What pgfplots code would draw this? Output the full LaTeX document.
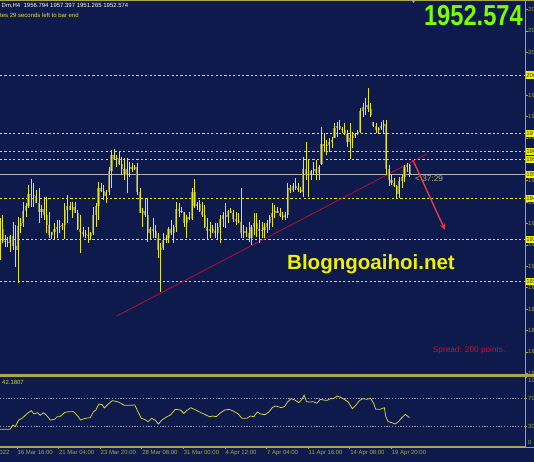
\documentclass[border=0pt]{standalone}
\usepackage{fontspec}
\setmainfont{Liberation Sans}
\usepackage{pgfplots}
\pgfplotsset{compat=1.18}
\usepackage{pgfplotstable}
\usetikzlibrary{arrows.meta}

\definecolor{bg}{HTML}{0D1A4B}
\definecolor{frame}{HTML}{A8A844}
\definecolor{wick}{HTML}{E6E61E}
\definecolor{body}{HTML}{84844A}
\definecolor{lvl}{HTML}{E8E800}
\definecolor{bid}{HTML}{B4B4B4}
\definecolor{trend}{HTML}{B3122E}
\definecolor{arrowred}{HTML}{F03A47}
\definecolor{timer}{HTML}{B8B860}
\definecolor{wm}{HTML}{F0F000}
\definecolor{big}{HTML}{7CFC00}
\definecolor{spread}{HTML}{C8102E}
\definecolor{rsi}{HTML}{D8D838}
\definecolor{dots}{HTML}{9A9AB0}
\definecolor{boxy}{HTML}{F2F200}

% H4 bars: index, open, high, low, close
\pgfplotstableread{
i o h l c
0 1925 1931.3 1911.2 1926
1 1926 1932.9 1919.2 1920.5
2 1920.5 1923.2 1917.6 1920
3 1920 1922.4 1917.6 1919.5
4 1919.5 1923.2 1915.2 1922.5
5 1922.5 1929.7 1916.0 1918
6 1918 1928.1 1907.9 1916
7 1916 1932.1 1899.9 1927.5
8 1927.5 1931.3 1924.0 1929
9 1929 1939.3 1927.2 1935
10 1935 1938.5 1932.1 1937
11 1937 1947.4 1936.1 1943
12 1943 1950.1 1936.9 1942.5
13 1942.5 1948.2 1936.9 1942
14 1942 1945.0 1938.5 1938.6
15 1938.6 1945.8 1928.9 1934.5
16 1934.5 1937.7 1931.3 1936
17 1936 1941.8 1930.5 1933
18 1933 1941.8 1924.0 1928
19 1928 1934.5 1921.6 1923
20 1923 1924.8 1921.1 1924.5
21 1924.5 1928.9 1921.1 1926
22 1926 1930.5 1921.6 1927
23 1927 1930.5 1924.0 1927.5
24 1927.5 1928.9 1925.6 1928
25 1928 1938.5 1921.1 1935.5
26 1935.5 1942.5 1928.9 1937
27 1937 1939.3 1935.3 1935.5
28 1935.5 1939.3 1931.3 1936.5
29 1936.5 1939.3 1933.7 1934
30 1934 1935.3 1925.6 1926
31 1926 1932.9 1914.4 1924.5
32 1924.5 1927.2 1922.4 1923.5
33 1923.5 1925.6 1921.6 1923
34 1923 1927.2 1919.2 1922.5
35 1922.5 1924.8 1920.8 1924
36 1924 1936.9 1923.2 1933
37 1933 1938.5 1927.2 1937
38 1937 1949.0 1930.5 1946
39 1946 1948.2 1944.2 1944.5
40 1944.5 1947.4 1940.1 1942
41 1942 1945.0 1938.5 1944
42 1944 1956.2 1942.5 1954
43 1954 1964.3 1945.8 1962
44 1962 1964.8 1959.5 1960
45 1960 1961.9 1956.2 1960.5
46 1960.5 1963.5 1957.0 1957.5
47 1957.5 1961.1 1952.2 1955
48 1955 1960.3 1949.8 1952
49 1952 1960.3 1943.4 1955
50 1955 1958.7 1951.4 1956
51 1956 1957.9 1953.8 1955.2
52 1955.2 1957.0 1954.6 1956
53 1956 1957.9 1942.5 1944
54 1944 1945.8 1933.7 1934
55 1934 1936.1 1927.2 1935
56 1935 1940.9 1932.1 1933
57 1933 1940.9 1920.0 1924
58 1924 1927.2 1920.8 1926
59 1926 1931.3 1921.6 1925
60 1925 1928.1 1921.6 1922
61 1922 1924.0 1912.0 1916
62 1916 1919.2 1895.8 1917
63 1917 1924.0 1916.0 1921
64 1921 1923.2 1919.2 1922
65 1922 1927.2 1919.2 1926
66 1926 1930.5 1923.2 1924
67 1924 1928.1 1919.2 1927
68 1927 1939.3 1924.8 1936
69 1936 1938.5 1932.1 1935
70 1935 1936.9 1933.7 1934.5
71 1934.5 1934.5 1927.2 1929
72 1929 1932.9 1921.6 1932
73 1932 1934.5 1930.5 1931
74 1931 1945.8 1930.5 1944
75 1944 1950.1 1936.1 1937
76 1937 1939.3 1935.3 1938
77 1938 1940.1 1934.5 1935
78 1935 1939.3 1932.1 1933
79 1933 1937.7 1926.5 1927
80 1927 1931.3 1920.8 1925
81 1925 1929.7 1921.6 1926
82 1926 1928.1 1924.0 1925
83 1925 1928.9 1921.6 1924
84 1924 1928.9 1920.8 1927
85 1927 1932.9 1919.2 1931
86 1931 1934.5 1927.2 1933
87 1933 1938.5 1926.5 1932
88 1932 1935.3 1928.9 1935
89 1935 1936.1 1933.7 1934
90 1934 1935.3 1929.7 1931
91 1931 1934.5 1928.1 1930
92 1930 1933.7 1928.9 1929.5
93 1929.5 1945.8 1921.6 1924
94 1924 1928.1 1921.6 1925
95 1925 1927.2 1922.4 1924
96 1924 1929.7 1920.0 1922
97 1922 1928.1 1918.4 1927
98 1927 1933.7 1923.2 1929
99 1929 1933.7 1922.4 1926
100 1926 1930.5 1919.2 1925
101 1925 1929.7 1921.6 1925.5
102 1925.5 1928.9 1921.6 1927
103 1927 1930.5 1924.0 1929
104 1929 1932.9 1925.6 1932
105 1932 1938.5 1927.2 1934
106 1934 1937.7 1931.3 1935
107 1935 1936.9 1933.7 1934
108 1934 1936.1 1932.1 1932.5
109 1932.5 1934.5 1930.5 1932
110 1932 1934.5 1930.5 1933
111 1933 1948.2 1931.3 1946
112 1946 1947.4 1943.4 1945
113 1945 1948.2 1944.2 1947
114 1947 1950.6 1945.0 1946
115 1946 1948.2 1944.2 1945
116 1945 1946.6 1943.4 1944
117 1944 1961.1 1941.8 1955
118 1955 1968.3 1949.8 1952
119 1952 1959.5 1941.8 1952.5
120 1952.5 1954.6 1949.8 1954
121 1954 1958.7 1952.2 1955
122 1955 1959.5 1949.8 1953
123 1953 1957.0 1949.8 1956
124 1957.5 1975.6 1957.0 1967
125 1967 1972.3 1963.5 1966
126 1966 1969.1 1961.9 1966.5
127 1966.5 1969.9 1963.5 1968
128 1968 1970.7 1965.1 1969
129 1970 1977.2 1969.9 1975
130 1975 1978.0 1970.7 1976
131 1976 1978.8 1974.0 1974.5
132 1974.5 1975.6 1972.3 1974
133 1974 1977.2 1971.5 1972
134 1972 1974.0 1965.9 1968
135 1968 1977.2 1959.8 1970
136 1970 1973.1 1965.1 1971
137 1971 1972.3 1969.9 1972
138 1972 1974.0 1971.5 1973
139 1973 1984.4 1972.3 1983
140 1983 1986.8 1980.4 1985
141 1985 1989.2 1981.2 1986
142 1986 1994.1 1982.8 1984
143 1984 1986.8 1980.4 1981
144 1978 1978.0 1975.6 1976
145 1976 1977.2 1972.3 1974
146 1974 1975.6 1972.3 1975
147 1975 1978.0 1974.0 1976
148 1976 1978.8 1972.3 1977
149 1977 1978.8 1952.2 1955
150 1955 1957.1 1947.0 1950
151 1950 1952.2 1947.4 1948.5
152 1948.5 1950.8 1946.4 1947
153 1947 1947.4 1941.1 1943
154 1943 1951.3 1941.1 1949.5
155 1949.5 1952.2 1946.0 1951
156 1951 1957.1 1948.9 1956
157 1956 1958.0 1953.7 1956.8
158 1956.794 1957.397 1951.265 1952.574
}\bars

\begin{document}
\begin{tikzpicture}
\path[use as bounding box] (0,0) rectangle (534bp,462bp);
\clip (0,0) rectangle (534bp,462bp);
\fill[bg] (0,0) rectangle (534bp,462bp);

% ---- price panel
\begin{axis}[
  at={(0bp,88.7bp)}, anchor=south west, scale only axis,
  width=525bp, height=372.3bp,
  xmin=0, xmax=202.47, ymin=1856.4, ymax=2036.25,
  axis x line=none, axis y line*=right,
  y axis line style={draw=frame, line width=0.8bp},
  ytick={2032.19,2021.85,2011.51,2001.17,1990.84,1980.50,1970.16,1959.82,1949.48,1939.14,1928.81,1918.47,1908.13,1897.79,1887.45,1877.12,1866.78,1856.44},
  yticklabels={2032.190,2021.850,2011.510,2001.170,1990.840,1980.500,1970.160,1959.820,1949.480,1939.140,1928.810,1918.470,1908.130,1897.790,1887.450,1877.120,1866.780,1856.440},
  tick align=outside, major tick length=2.5bp,
  tick style={draw=frame, line width=0.6bp},
  yticklabel style={font=\fontsize{6}{6}\selectfont, text=frame, anchor=west, inner sep=0.5bp},
]
% support / resistance levels
\addplot[lvl, line width=1bp, dash pattern=on 2.2bp off 2.2bp] coordinates {(0,2000.1) (202.47,2000.1)};
\addplot[lvl!85!white, line width=1bp, dash pattern=on 2.2bp off 2.2bp] coordinates {(0,1972.4) (202.47,1972.4)};
\addplot[lvl, line width=1bp, dash pattern=on 2.2bp off 2.2bp] coordinates {(0,1963.7) (202.47,1963.7)};
\addplot[lvl, line width=1bp, dash pattern=on 2.2bp off 2.2bp] coordinates {(0,1959.8) (202.47,1959.8)};
\addplot[lvl, line width=1bp, dash pattern=on 2.2bp off 2.2bp] coordinates {(0,1941.0) (202.47,1941.0)};
\addplot[lvl, line width=1bp, dash pattern=on 2.2bp off 2.2bp] coordinates {(0,1921.2) (202.47,1921.2)};
\addplot[lvl, line width=1bp, dash pattern=on 2.2bp off 2.2bp] coordinates {(0,1900.9) (202.47,1900.9)};
\addplot[bid, line width=0.8bp] coordinates {(0,1952.574) (202.47,1952.574)};
% trend line
\addplot[trend, line width=0.8bp] coordinates {(45.1,1884.1) (164.7,1962.4)};
% candle bodies
\addplot[forget plot, draw=none, mark=none,
  error bars/.cd, y dir=minus, y explicit, error mark=none,
  error bar style={draw=body, line width=2.1bp, solid}]
  table[x=i, y expr={max(\thisrow{o},\thisrow{c})},
        y error minus expr={abs(\thisrow{o}-\thisrow{c})}] {\bars};
% wicks
\addplot[forget plot, draw=none, mark=none,
  error bars/.cd, y dir=minus, y explicit, error mark=none,
  error bar style={draw=wick, line width=0.75bp, solid}]
  table[x=i, y=h, y error minus expr={\thisrow{h}-\thisrow{l}}] {\bars};
% forecast arrow
\addplot[arrowred, line width=1.3bp, -{Stealth[length=6bp,width=5bp]}] coordinates {(159.2,1959.5) (171.6,1925.7)};
\end{axis}

% ---- RSI panel
\begin{axis}[
  at={(0bp,15.2bp)}, anchor=south west, scale only axis,
  width=525bp, height=69.2bp,
  xmin=0, xmax=202.47, ymin=0, ymax=100,
  axis x line*=bottom, axis y line*=right,
  axis line style={draw=frame, line width=0.8bp},
  tick align=outside, major tick length=2.2bp,
  tick style={draw=frame, line width=0.6bp},
  ytick={0,30,70,100}, yticklabels={,,,},
  xtick={6.48,22.52,38.57,54.61,70.65,86.70,102.74,118.78,134.82,150.87},
  xticklabels={16 Mar 16:00,21 Mar 04:00,23 Mar 20:00,28 Mar 08:00,31 Mar 00:00,4 Apr 12:00,7 Apr 04:00,11 Apr 16:00,14 Apr 08:00,19 Apr 20:00},
  xticklabel style={font=\fontsize{6}{6}\selectfont, text=frame, anchor=north west, inner sep=0bp, xshift=0.5bp, yshift=-1bp},
]
\addplot[dots, line width=0.7bp, dash pattern=on 1.2bp off 1.6bp] coordinates {(0,70) (202.47,70)};
\addplot[dots, line width=0.7bp, dash pattern=on 1.2bp off 1.6bp] coordinates {(0,30) (202.47,30)};
\addplot[rsi, line width=0.75bp] coordinates {
(0,25.2) (3.9,25.2) (5.0,31.5) (5.9,29.1) (7.2,38.7) (8.5,41.1) (10.5,48.3) (12.1,52.2) (13.1,47.4) (14.4,49.3)
(15.5,45.5) (16.8,49.3) (17.9,45.5) (19.4,38.7) (21.0,39.7) (22.1,43.5) (23.1,43.5) (25.0,49.8) (26.9,50.8) (28.4,50.8)
(30.2,43.5) (31.0,38.7) (32.8,41.1) (34.8,42.1) (36.1,50.8) (37.0,53.2) (38.1,61.8) (39.4,60.9) (40.2,56.1) (41.5,60.9)
(43.3,66.7) (45.3,65.2) (46.6,62.8) (47.9,59.9) (49.9,59.9) (52.0,60.4) (53.2,50.8) (54.5,41.1) (55.8,39.7) (57.1,36.3)
(58.5,41.1) (59.8,38.7) (61.1,32.9) (62.4,38.7) (64.4,43.5) (65.7,45.9) (67.6,54.1) (69.6,53.2) (70.9,48.3) (72.0,52.2)
(73.6,56.5) (75.5,53.2) (77.5,49.3) (79.5,45.9) (80.8,43.5) (82.1,44.5) (83.4,43.5) (85.1,49.3) (86.7,53.2) (88.3,54.1)
(90.0,51.7) (91.9,47.4) (93.3,41.1) (95.2,41.1) (96.5,44.5) (97.9,43.5) (99.2,50.3) (100.5,47.4) (102.2,46.4) (103.8,50.8)
(105.1,57.0) (106.4,59.0) (108.4,56.5) (109.7,58.0) (111.0,65.2) (112.3,69.6) (113.7,67.6) (115.2,63.8) (116.2,67.6) (117.3,74.4)
(118.2,65.2) (119.5,64.7) (120.8,65.2) (122.2,62.8) (123.5,68.6) (124.8,67.6) (126.1,67.1) (127.4,69.6) (128.7,70.0) (130.0,73.4)
(131.4,71.5) (132.7,68.6) (134.2,65.2) (135.9,55.1) (137.3,60.4) (138.6,66.7) (139.9,69.6) (141.5,68.6) (142.9,70.0) (144.1,62.8)
(144.9,54.1) (146.5,54.1) (148.2,56.5) (148.8,43.5) (149.7,36.3) (151.1,34.9) (152.4,32.9) (153.7,36.3) (154.7,41.1) (156.3,46.9)
(157.9,42.18)
};
\end{axis}

% ---- terminal decorations, in screen pixels (y down)
\begin{scope}[x=1bp, y=-1bp, yshift=462bp]
\draw[frame, line width=1bp] (0,0.5) -- (534,0.5);
\fill[frame] (0,374) rectangle (534,376.7);
\draw[frame, line width=0.8bp] (0,447.2) -- (534,447.2);
\draw[frame, line width=0.8bp] (525,0) -- (525,447.2);
\fill[gray!70] (411.5,0) -- (415.7,0) -- (413.6,3) -- cycle;
% level price tags
\foreach \yy/\tx in {75/2000.100, 133.3/1972.400, 151.3/1963.700, 159.3/1959.800, 174.3/1952.574, 198.3/1941.000, 239.3/1921.200, 281.3/1899.950}
  \node[fill=boxy, text=black!80, anchor=west, inner sep=0.6bp, minimum height=7.5bp,
        font=\fontsize{6}{6}\selectfont] at (525.6,\yy) {\tx};
% RSI scale
\foreach \yy/\tx in {380/100, 398.3/70, 426/30, 442.7/0}
  \node[text=frame, anchor=west, inner sep=0bp, font=\fontsize{6}{6}\selectfont] at (528,\yy) {\tx};
\node[text=frame, anchor=north west, inner sep=0bp, font=\fontsize{6}{6}\selectfont] at (-24.3,450) {14 Mar 2022};
% texts
\node[text=white!85!yellow, anchor=west, inner sep=0bp, font=\fontsize{6}{7}\selectfont] at (1.5,6) {Dm,H4\ \ 1956.794 1957.397 1951.265 1952.574};
\node[text=wick, anchor=west, inner sep=0bp, font=\fontsize{6}{7}\selectfont] at (0,15) {tes 29 seconds left to bar end};
\node[text=big, anchor=base east, inner sep=0bp, xscale=0.82, font=\bfseries\fontsize{29}{29}\selectfont] at (523,26) {1952.574};
\node[text=wm, anchor=base west, inner sep=0bp, font=\bfseries\fontsize{20.6}{21}\selectfont] at (287,270) {Blogngoaihoi.net};
\node[text=timer, anchor=west, inner sep=0bp, font=\fontsize{8.3}{9}\selectfont] at (415,179) {< 37:29};
\node[text=spread, anchor=west, inner sep=0bp, font=\fontsize{8.3}{9}\selectfont] at (432.7,350) {Spread: 200 points.};
\node[text=rsi, anchor=west, inner sep=0bp, font=\fontsize{6}{7}\selectfont] at (2,382) {42.1807};
\end{scope}
\end{tikzpicture}
\end{document}
